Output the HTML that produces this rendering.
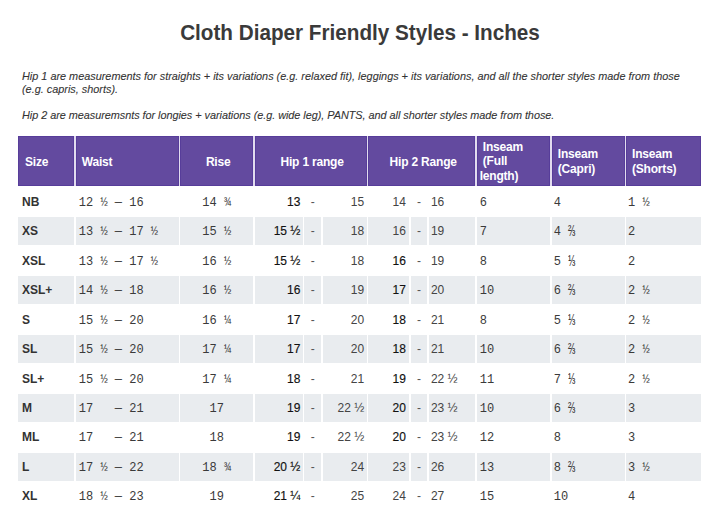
<!DOCTYPE html>
<html><head><meta charset="utf-8"><style>
*{margin:0;padding:0;box-sizing:border-box}
html,body{width:720px;height:528px;background:#fff;overflow:hidden}
body{position:relative;font-family:"Liberation Sans",sans-serif;color:#333}
.a{position:absolute;white-space:pre}
.t{left:0;width:720px;text-align:center;font-weight:bold;font-size:22px;color:#3a3a3a;transform:scaleX(0.94);transform-origin:360px 0}
.p{left:22px;font-style:italic;font-size:11.5px;color:#333;line-height:12.8px;-webkit-text-stroke:0.1px #333;transform:scaleX(0.945);transform-origin:0 0}
.h{position:absolute;top:136px;height:50px;background:#634a9f;box-shadow:inset 0 0 0 1px #573d9a;color:#fff;font-weight:bold;font-size:12px;line-height:14.3px;letter-spacing:-0.2px;display:flex;align-items:center;white-space:pre}
.g{position:absolute;background:#e9ecef}
.c{position:absolute;display:flex;align-items:center;white-space:pre;font-size:12px;color:#333}
.m{font-family:"Liberation Mono",monospace;color:#3a3a3a;padding-top:2px}
.b1{color:#111;-webkit-text-stroke:0.15px #111}
.b2{color:#111;-webkit-text-stroke:0.15px #111}
.r{justify-content:flex-end}
.fr{display:inline-block;transform:scaleY(1.3)}
.ce{justify-content:center}
</style></head><body>
<div class="a t" style="top:20px">Cloth Diaper Friendly Styles - Inches</div>
<div class="a p" style="top:70px">Hip 1 are measurements for straights + its variations (e.g. relaxed fit), leggings + its variations, and all the shorter styles made from those
(e.g. capris, shorts).</div>
<div class="a p" style="top:109px;letter-spacing:-0.04px">Hip 2 are measuremsnts for longies + variations (e.g. wide leg), PANTS, and all shorter styles made from those.</div>
<div style="position:absolute;left:18px;top:136px;width:683px;height:50px;background:#e2dcef"></div>
<div class="h" style="left:18px;width:56.3px;padding-left:7px;padding-top:2px"><span>Size</span></div>
<div class="h" style="left:75.8px;width:103px;padding-left:6px;padding-top:2px"><span>Waist</span></div>
<div class="h" style="left:180.2px;width:73px;justify-content:center;padding-left:3px;padding-top:2px"><span>Rise</span></div>
<div class="h" style="left:254.5px;width:112.2px;justify-content:center;padding-left:3px;padding-top:2px"><span>Hip 1 range</span></div>
<div class="h" style="left:368px;width:107.4px;justify-content:center;padding-left:3px;padding-top:2px"><span>Hip 2 Range</span></div>
<div class="h" style="left:477.2px;width:72.8px;padding-left:2.5px;padding-top:1px"><span> Inseam
 (Full
length)</span></div>
<div class="h" style="left:551.8px;width:73.1px;padding-left:6px;padding-top:1px"><span>Inseam
(Capri)</span></div>
<div class="h" style="left:626px;width:74.7px;padding-left:6px;padding-top:1px"><span>Inseam
(Shorts)</span></div>
<div class="c " style="left:18px;top:187.6px;width:56.3px;height:28.4px;padding-left:4px;font-weight:bold;color:#333">NB</div>
<div class="c m" style="left:75.8px;top:187.6px;width:103px;height:28.4px;padding-left:3px">12 ½ — 16</div>
<div class="c m ce" style="left:180.2px;top:187.6px;width:73px;height:28.4px;">14 ¾</div>
<div class="c r b1" style="left:254.5px;top:187.6px;width:48.35px;height:28.4px;padding-right:2.5px">13</div>
<div class="c ce" style="left:304.2px;top:187.6px;width:17.05px;height:28.4px;color:#555">-</div>
<div class="c r" style="left:323px;top:187.6px;width:43.7px;height:28.4px;padding-right:2.5px;color:#444">15</div>
<div class="c r " style="left:368px;top:187.6px;width:40.9px;height:28.4px;padding-right:3px;color:#444">14</div>
<div class="c ce" style="left:410.6px;top:187.6px;width:16.6px;height:28.4px;color:#555">-</div>
<div class="c " style="left:428.9px;top:187.6px;width:46.5px;height:28.4px;padding-left:2px;color:#444">16</div>
<div class="c m" style="left:477.2px;top:187.6px;width:72.8px;height:28.4px;padding-left:2.5px">6</div>
<div class="c m" style="left:551.8px;top:187.6px;width:73.1px;height:28.4px;padding-left:2px">4</div>
<div class="c m" style="left:626px;top:187.6px;width:74.7px;height:28.4px;padding-left:2px">1 ½</div>
<div class="g" style="left:18px;top:217.06px;width:56.3px;height:28.4px"></div>
<div class="g" style="left:75.8px;top:217.06px;width:103px;height:28.4px"></div>
<div class="g" style="left:180.2px;top:217.06px;width:73px;height:28.4px"></div>
<div class="g" style="left:254.5px;top:217.06px;width:48.35px;height:28.4px"></div>
<div class="g" style="left:304.2px;top:217.06px;width:17.05px;height:28.4px"></div>
<div class="g" style="left:323px;top:217.06px;width:43.7px;height:28.4px"></div>
<div class="g" style="left:368px;top:217.06px;width:40.9px;height:28.4px"></div>
<div class="g" style="left:410.6px;top:217.06px;width:16.6px;height:28.4px"></div>
<div class="g" style="left:428.9px;top:217.06px;width:46.5px;height:28.4px"></div>
<div class="g" style="left:477.2px;top:217.06px;width:72.8px;height:28.4px"></div>
<div class="g" style="left:551.8px;top:217.06px;width:73.1px;height:28.4px"></div>
<div class="g" style="left:626px;top:217.06px;width:74.7px;height:28.4px"></div>
<div class="c " style="left:18px;top:217.06px;width:56.3px;height:28.4px;padding-left:4px;font-weight:bold;color:#333">XS</div>
<div class="c m" style="left:75.8px;top:217.06px;width:103px;height:28.4px;padding-left:3px">13 ½ — 17 ½</div>
<div class="c m ce" style="left:180.2px;top:217.06px;width:73px;height:28.4px;">15 ½</div>
<div class="c r b1" style="left:254.5px;top:217.06px;width:48.35px;height:28.4px;padding-right:2.5px">15 ½</div>
<div class="c ce" style="left:304.2px;top:217.06px;width:17.05px;height:28.4px;color:#555">-</div>
<div class="c r" style="left:323px;top:217.06px;width:43.7px;height:28.4px;padding-right:2.5px;color:#444">18</div>
<div class="c r " style="left:368px;top:217.06px;width:40.9px;height:28.4px;padding-right:3px;color:#444">16</div>
<div class="c ce" style="left:410.6px;top:217.06px;width:16.6px;height:28.4px;color:#555">-</div>
<div class="c " style="left:428.9px;top:217.06px;width:46.5px;height:28.4px;padding-left:2px;color:#444">19</div>
<div class="c m" style="left:477.2px;top:217.06px;width:72.8px;height:28.4px;padding-left:2.5px">7</div>
<div class="c m" style="left:551.8px;top:217.06px;width:73.1px;height:28.4px;padding-left:2px">4 <span class="fr">⅔</span></div>
<div class="c m" style="left:626px;top:217.06px;width:74.7px;height:28.4px;padding-left:2px">2</div>
<div class="c " style="left:18px;top:246.52px;width:56.3px;height:28.4px;padding-left:4px;font-weight:bold;color:#333">XSL</div>
<div class="c m" style="left:75.8px;top:246.52px;width:103px;height:28.4px;padding-left:3px">13 ½ — 17 ½</div>
<div class="c m ce" style="left:180.2px;top:246.52px;width:73px;height:28.4px;">16 ½</div>
<div class="c r b1" style="left:254.5px;top:246.52px;width:48.35px;height:28.4px;padding-right:2.5px">15 ½</div>
<div class="c ce" style="left:304.2px;top:246.52px;width:17.05px;height:28.4px;color:#555">-</div>
<div class="c r" style="left:323px;top:246.52px;width:43.7px;height:28.4px;padding-right:2.5px;color:#444">18</div>
<div class="c r b1" style="left:368px;top:246.52px;width:40.9px;height:28.4px;padding-right:3px">16</div>
<div class="c ce" style="left:410.6px;top:246.52px;width:16.6px;height:28.4px;color:#555">-</div>
<div class="c " style="left:428.9px;top:246.52px;width:46.5px;height:28.4px;padding-left:2px;color:#444">19</div>
<div class="c m" style="left:477.2px;top:246.52px;width:72.8px;height:28.4px;padding-left:2.5px">8</div>
<div class="c m" style="left:551.8px;top:246.52px;width:73.1px;height:28.4px;padding-left:2px">5 <span class="fr">⅓</span></div>
<div class="c m" style="left:626px;top:246.52px;width:74.7px;height:28.4px;padding-left:2px">2</div>
<div class="g" style="left:18px;top:275.98px;width:56.3px;height:28.4px"></div>
<div class="g" style="left:75.8px;top:275.98px;width:103px;height:28.4px"></div>
<div class="g" style="left:180.2px;top:275.98px;width:73px;height:28.4px"></div>
<div class="g" style="left:254.5px;top:275.98px;width:48.35px;height:28.4px"></div>
<div class="g" style="left:304.2px;top:275.98px;width:17.05px;height:28.4px"></div>
<div class="g" style="left:323px;top:275.98px;width:43.7px;height:28.4px"></div>
<div class="g" style="left:368px;top:275.98px;width:40.9px;height:28.4px"></div>
<div class="g" style="left:410.6px;top:275.98px;width:16.6px;height:28.4px"></div>
<div class="g" style="left:428.9px;top:275.98px;width:46.5px;height:28.4px"></div>
<div class="g" style="left:477.2px;top:275.98px;width:72.8px;height:28.4px"></div>
<div class="g" style="left:551.8px;top:275.98px;width:73.1px;height:28.4px"></div>
<div class="g" style="left:626px;top:275.98px;width:74.7px;height:28.4px"></div>
<div class="c " style="left:18px;top:275.98px;width:56.3px;height:28.4px;padding-left:4px;font-weight:bold;color:#333">XSL+</div>
<div class="c m" style="left:75.8px;top:275.98px;width:103px;height:28.4px;padding-left:3px">14 ½ — 18</div>
<div class="c m ce" style="left:180.2px;top:275.98px;width:73px;height:28.4px;">16 ½</div>
<div class="c r b1" style="left:254.5px;top:275.98px;width:48.35px;height:28.4px;padding-right:2.5px">16</div>
<div class="c ce" style="left:304.2px;top:275.98px;width:17.05px;height:28.4px;color:#555">-</div>
<div class="c r" style="left:323px;top:275.98px;width:43.7px;height:28.4px;padding-right:2.5px;color:#444">19</div>
<div class="c r b1" style="left:368px;top:275.98px;width:40.9px;height:28.4px;padding-right:3px">17</div>
<div class="c ce" style="left:410.6px;top:275.98px;width:16.6px;height:28.4px;color:#555">-</div>
<div class="c " style="left:428.9px;top:275.98px;width:46.5px;height:28.4px;padding-left:2px;color:#444">20</div>
<div class="c m" style="left:477.2px;top:275.98px;width:72.8px;height:28.4px;padding-left:2.5px">10</div>
<div class="c m" style="left:551.8px;top:275.98px;width:73.1px;height:28.4px;padding-left:2px">6 <span class="fr">⅔</span></div>
<div class="c m" style="left:626px;top:275.98px;width:74.7px;height:28.4px;padding-left:2px">2 ½</div>
<div class="c " style="left:18px;top:305.44px;width:56.3px;height:28.4px;padding-left:4px;font-weight:bold;color:#333">S</div>
<div class="c m" style="left:75.8px;top:305.44px;width:103px;height:28.4px;padding-left:3px">15 ½ — 20</div>
<div class="c m ce" style="left:180.2px;top:305.44px;width:73px;height:28.4px;">16 ¼</div>
<div class="c r b1" style="left:254.5px;top:305.44px;width:48.35px;height:28.4px;padding-right:2.5px">17</div>
<div class="c ce" style="left:304.2px;top:305.44px;width:17.05px;height:28.4px;color:#555">-</div>
<div class="c r" style="left:323px;top:305.44px;width:43.7px;height:28.4px;padding-right:2.5px;color:#444">20</div>
<div class="c r b1" style="left:368px;top:305.44px;width:40.9px;height:28.4px;padding-right:3px">18</div>
<div class="c ce" style="left:410.6px;top:305.44px;width:16.6px;height:28.4px;color:#555">-</div>
<div class="c " style="left:428.9px;top:305.44px;width:46.5px;height:28.4px;padding-left:2px;color:#444">21</div>
<div class="c m" style="left:477.2px;top:305.44px;width:72.8px;height:28.4px;padding-left:2.5px">8</div>
<div class="c m" style="left:551.8px;top:305.44px;width:73.1px;height:28.4px;padding-left:2px">5 <span class="fr">⅓</span></div>
<div class="c m" style="left:626px;top:305.44px;width:74.7px;height:28.4px;padding-left:2px">2 ½</div>
<div class="g" style="left:18px;top:334.9px;width:56.3px;height:28.4px"></div>
<div class="g" style="left:75.8px;top:334.9px;width:103px;height:28.4px"></div>
<div class="g" style="left:180.2px;top:334.9px;width:73px;height:28.4px"></div>
<div class="g" style="left:254.5px;top:334.9px;width:48.35px;height:28.4px"></div>
<div class="g" style="left:304.2px;top:334.9px;width:17.05px;height:28.4px"></div>
<div class="g" style="left:323px;top:334.9px;width:43.7px;height:28.4px"></div>
<div class="g" style="left:368px;top:334.9px;width:40.9px;height:28.4px"></div>
<div class="g" style="left:410.6px;top:334.9px;width:16.6px;height:28.4px"></div>
<div class="g" style="left:428.9px;top:334.9px;width:46.5px;height:28.4px"></div>
<div class="g" style="left:477.2px;top:334.9px;width:72.8px;height:28.4px"></div>
<div class="g" style="left:551.8px;top:334.9px;width:73.1px;height:28.4px"></div>
<div class="g" style="left:626px;top:334.9px;width:74.7px;height:28.4px"></div>
<div class="c " style="left:18px;top:334.9px;width:56.3px;height:28.4px;padding-left:4px;font-weight:bold;color:#333">SL</div>
<div class="c m" style="left:75.8px;top:334.9px;width:103px;height:28.4px;padding-left:3px">15 ½ — 20</div>
<div class="c m ce" style="left:180.2px;top:334.9px;width:73px;height:28.4px;">17 ¼</div>
<div class="c r b1" style="left:254.5px;top:334.9px;width:48.35px;height:28.4px;padding-right:2.5px">17</div>
<div class="c ce" style="left:304.2px;top:334.9px;width:17.05px;height:28.4px;color:#555">-</div>
<div class="c r" style="left:323px;top:334.9px;width:43.7px;height:28.4px;padding-right:2.5px;color:#444">20</div>
<div class="c r b1" style="left:368px;top:334.9px;width:40.9px;height:28.4px;padding-right:3px">18</div>
<div class="c ce" style="left:410.6px;top:334.9px;width:16.6px;height:28.4px;color:#555">-</div>
<div class="c " style="left:428.9px;top:334.9px;width:46.5px;height:28.4px;padding-left:2px;color:#444">21</div>
<div class="c m" style="left:477.2px;top:334.9px;width:72.8px;height:28.4px;padding-left:2.5px">10</div>
<div class="c m" style="left:551.8px;top:334.9px;width:73.1px;height:28.4px;padding-left:2px">6 <span class="fr">⅔</span></div>
<div class="c m" style="left:626px;top:334.9px;width:74.7px;height:28.4px;padding-left:2px">2 ½</div>
<div class="c " style="left:18px;top:364.36px;width:56.3px;height:28.4px;padding-left:4px;font-weight:bold;color:#333">SL+</div>
<div class="c m" style="left:75.8px;top:364.36px;width:103px;height:28.4px;padding-left:3px">15 ½ — 20</div>
<div class="c m ce" style="left:180.2px;top:364.36px;width:73px;height:28.4px;">17 ¼</div>
<div class="c r b1" style="left:254.5px;top:364.36px;width:48.35px;height:28.4px;padding-right:2.5px">18</div>
<div class="c ce" style="left:304.2px;top:364.36px;width:17.05px;height:28.4px;color:#555">-</div>
<div class="c r" style="left:323px;top:364.36px;width:43.7px;height:28.4px;padding-right:2.5px;color:#444">21</div>
<div class="c r b2" style="left:368px;top:364.36px;width:40.9px;height:28.4px;padding-right:3px">19</div>
<div class="c ce" style="left:410.6px;top:364.36px;width:16.6px;height:28.4px;color:#555">-</div>
<div class="c " style="left:428.9px;top:364.36px;width:46.5px;height:28.4px;padding-left:2px;color:#444">22 ½</div>
<div class="c m" style="left:477.2px;top:364.36px;width:72.8px;height:28.4px;padding-left:2.5px">11</div>
<div class="c m" style="left:551.8px;top:364.36px;width:73.1px;height:28.4px;padding-left:2px">7 <span class="fr">⅓</span></div>
<div class="c m" style="left:626px;top:364.36px;width:74.7px;height:28.4px;padding-left:2px">2 ½</div>
<div class="g" style="left:18px;top:393.82px;width:56.3px;height:28.4px"></div>
<div class="g" style="left:75.8px;top:393.82px;width:103px;height:28.4px"></div>
<div class="g" style="left:180.2px;top:393.82px;width:73px;height:28.4px"></div>
<div class="g" style="left:254.5px;top:393.82px;width:48.35px;height:28.4px"></div>
<div class="g" style="left:304.2px;top:393.82px;width:17.05px;height:28.4px"></div>
<div class="g" style="left:323px;top:393.82px;width:43.7px;height:28.4px"></div>
<div class="g" style="left:368px;top:393.82px;width:40.9px;height:28.4px"></div>
<div class="g" style="left:410.6px;top:393.82px;width:16.6px;height:28.4px"></div>
<div class="g" style="left:428.9px;top:393.82px;width:46.5px;height:28.4px"></div>
<div class="g" style="left:477.2px;top:393.82px;width:72.8px;height:28.4px"></div>
<div class="g" style="left:551.8px;top:393.82px;width:73.1px;height:28.4px"></div>
<div class="g" style="left:626px;top:393.82px;width:74.7px;height:28.4px"></div>
<div class="c " style="left:18px;top:393.82px;width:56.3px;height:28.4px;padding-left:4px;font-weight:bold;color:#333">M</div>
<div class="c m" style="left:75.8px;top:393.82px;width:103px;height:28.4px;padding-left:3px">17   — 21</div>
<div class="c m ce" style="left:180.2px;top:393.82px;width:73px;height:28.4px;">17</div>
<div class="c r b1" style="left:254.5px;top:393.82px;width:48.35px;height:28.4px;padding-right:2.5px">19</div>
<div class="c ce" style="left:304.2px;top:393.82px;width:17.05px;height:28.4px;color:#555">-</div>
<div class="c r" style="left:323px;top:393.82px;width:43.7px;height:28.4px;padding-right:2.5px;color:#444">22 ½</div>
<div class="c r b2" style="left:368px;top:393.82px;width:40.9px;height:28.4px;padding-right:3px">20</div>
<div class="c ce" style="left:410.6px;top:393.82px;width:16.6px;height:28.4px;color:#555">-</div>
<div class="c " style="left:428.9px;top:393.82px;width:46.5px;height:28.4px;padding-left:2px;color:#444">23 ½</div>
<div class="c m" style="left:477.2px;top:393.82px;width:72.8px;height:28.4px;padding-left:2.5px">10</div>
<div class="c m" style="left:551.8px;top:393.82px;width:73.1px;height:28.4px;padding-left:2px">6 <span class="fr">⅔</span></div>
<div class="c m" style="left:626px;top:393.82px;width:74.7px;height:28.4px;padding-left:2px">3</div>
<div class="c " style="left:18px;top:423.28px;width:56.3px;height:28.4px;padding-left:4px;font-weight:bold;color:#333">ML</div>
<div class="c m" style="left:75.8px;top:423.28px;width:103px;height:28.4px;padding-left:3px">17   — 21</div>
<div class="c m ce" style="left:180.2px;top:423.28px;width:73px;height:28.4px;">18</div>
<div class="c r b2" style="left:254.5px;top:423.28px;width:48.35px;height:28.4px;padding-right:2.5px">19</div>
<div class="c ce" style="left:304.2px;top:423.28px;width:17.05px;height:28.4px;color:#555">-</div>
<div class="c r" style="left:323px;top:423.28px;width:43.7px;height:28.4px;padding-right:2.5px;color:#444">22 ½</div>
<div class="c r b2" style="left:368px;top:423.28px;width:40.9px;height:28.4px;padding-right:3px">20</div>
<div class="c ce" style="left:410.6px;top:423.28px;width:16.6px;height:28.4px;color:#555">-</div>
<div class="c " style="left:428.9px;top:423.28px;width:46.5px;height:28.4px;padding-left:2px;color:#444">23 ½</div>
<div class="c m" style="left:477.2px;top:423.28px;width:72.8px;height:28.4px;padding-left:2.5px">12</div>
<div class="c m" style="left:551.8px;top:423.28px;width:73.1px;height:28.4px;padding-left:2px">8</div>
<div class="c m" style="left:626px;top:423.28px;width:74.7px;height:28.4px;padding-left:2px">3</div>
<div class="g" style="left:18px;top:452.74px;width:56.3px;height:28.4px"></div>
<div class="g" style="left:75.8px;top:452.74px;width:103px;height:28.4px"></div>
<div class="g" style="left:180.2px;top:452.74px;width:73px;height:28.4px"></div>
<div class="g" style="left:254.5px;top:452.74px;width:48.35px;height:28.4px"></div>
<div class="g" style="left:304.2px;top:452.74px;width:17.05px;height:28.4px"></div>
<div class="g" style="left:323px;top:452.74px;width:43.7px;height:28.4px"></div>
<div class="g" style="left:368px;top:452.74px;width:40.9px;height:28.4px"></div>
<div class="g" style="left:410.6px;top:452.74px;width:16.6px;height:28.4px"></div>
<div class="g" style="left:428.9px;top:452.74px;width:46.5px;height:28.4px"></div>
<div class="g" style="left:477.2px;top:452.74px;width:72.8px;height:28.4px"></div>
<div class="g" style="left:551.8px;top:452.74px;width:73.1px;height:28.4px"></div>
<div class="g" style="left:626px;top:452.74px;width:74.7px;height:28.4px"></div>
<div class="c " style="left:18px;top:452.74px;width:56.3px;height:28.4px;padding-left:4px;font-weight:bold;color:#333">L</div>
<div class="c m" style="left:75.8px;top:452.74px;width:103px;height:28.4px;padding-left:3px">17 ½ — 22</div>
<div class="c m ce" style="left:180.2px;top:452.74px;width:73px;height:28.4px;">18 ¾</div>
<div class="c r b2" style="left:254.5px;top:452.74px;width:48.35px;height:28.4px;padding-right:2.5px">20 ½</div>
<div class="c ce" style="left:304.2px;top:452.74px;width:17.05px;height:28.4px;color:#555">-</div>
<div class="c r" style="left:323px;top:452.74px;width:43.7px;height:28.4px;padding-right:2.5px;color:#444">24</div>
<div class="c r " style="left:368px;top:452.74px;width:40.9px;height:28.4px;padding-right:3px;color:#444">23</div>
<div class="c ce" style="left:410.6px;top:452.74px;width:16.6px;height:28.4px;color:#555">-</div>
<div class="c " style="left:428.9px;top:452.74px;width:46.5px;height:28.4px;padding-left:2px;color:#444">26</div>
<div class="c m" style="left:477.2px;top:452.74px;width:72.8px;height:28.4px;padding-left:2.5px">13</div>
<div class="c m" style="left:551.8px;top:452.74px;width:73.1px;height:28.4px;padding-left:2px">8 <span class="fr">⅔</span></div>
<div class="c m" style="left:626px;top:452.74px;width:74.7px;height:28.4px;padding-left:2px">3 ½</div>
<div class="c " style="left:18px;top:482.2px;width:56.3px;height:28.4px;padding-left:4px;font-weight:bold;color:#333">XL</div>
<div class="c m" style="left:75.8px;top:482.2px;width:103px;height:28.4px;padding-left:3px">18 ½ — 23</div>
<div class="c m ce" style="left:180.2px;top:482.2px;width:73px;height:28.4px;">19</div>
<div class="c r b2" style="left:254.5px;top:482.2px;width:48.35px;height:28.4px;padding-right:2.5px">21 ¼</div>
<div class="c ce" style="left:304.2px;top:482.2px;width:17.05px;height:28.4px;color:#555">-</div>
<div class="c r" style="left:323px;top:482.2px;width:43.7px;height:28.4px;padding-right:2.5px;color:#444">25</div>
<div class="c r " style="left:368px;top:482.2px;width:40.9px;height:28.4px;padding-right:3px;color:#444">24</div>
<div class="c ce" style="left:410.6px;top:482.2px;width:16.6px;height:28.4px;color:#555">-</div>
<div class="c " style="left:428.9px;top:482.2px;width:46.5px;height:28.4px;padding-left:2px;color:#444">27</div>
<div class="c m" style="left:477.2px;top:482.2px;width:72.8px;height:28.4px;padding-left:2.5px">15</div>
<div class="c m" style="left:551.8px;top:482.2px;width:73.1px;height:28.4px;padding-left:2px">10</div>
<div class="c m" style="left:626px;top:482.2px;width:74.7px;height:28.4px;padding-left:2px">4</div>
</body></html>
